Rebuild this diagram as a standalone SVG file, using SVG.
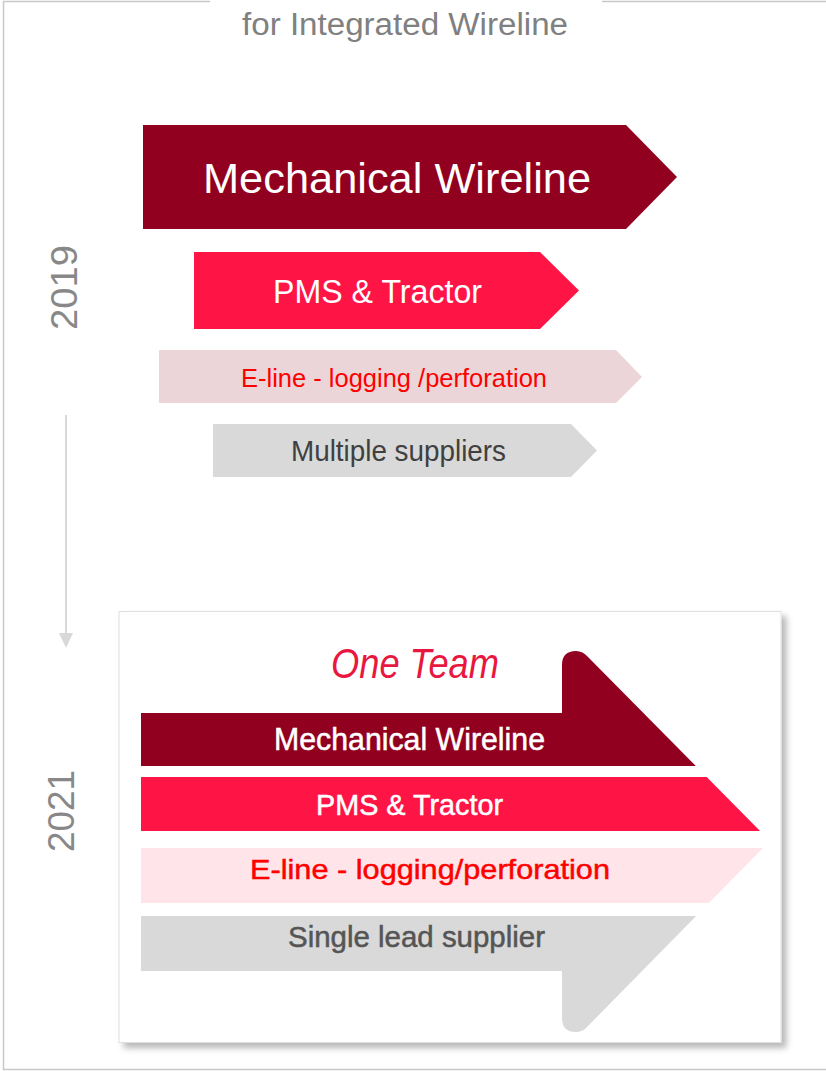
<svg xmlns="http://www.w3.org/2000/svg" width="826" height="1071" viewBox="0 0 826 1071">
  <style>
    text { font-family: "Liberation Sans", Arial, sans-serif; }
    .frame { fill: none; stroke: #c8c8c8; stroke-width: 1.5; }
    .w { fill: #ffffff; }
    .year { fill: #888888; font-size: 37px; }
    .conn { stroke: #d9d9d9; stroke-width: 2; fill: none; }
    .med { stroke-width: 0.5px; }
  </style>
  <defs>
    <filter id="shadow" x="-5%" y="-5%" width="115%" height="115%">
      <feDropShadow dx="5" dy="5" stdDeviation="3" flood-color="#000000" flood-opacity="0.28"/>
    </filter>
    <clipPath id="bigArrow">
      <path d="M141,713 L562,713 L562,665 Q562,651 576,651 Q583,651 588,657 L770,841 L588,1026 Q583,1032 576,1032 Q562,1032 562,1018 L562,971 L141,971 Z"/>
    </clipPath>
  </defs>

  <rect x="0" y="0" width="826" height="1071" fill="#ffffff"/>

  <!-- frame -->
  <g id="frame">
    <polyline class="frame" points="210,1.5 3.5,1.5 3.5,1069.5 826,1069.5"/>
    <line class="frame" x1="602" y1="1.5" x2="826" y2="1.5"/>
    <text x="242" y="35" font-size="31" fill="#808080" textLength="326" lengthAdjust="spacingAndGlyphs">for Integrated Wireline</text>
  </g>

  <!-- years -->
  <g id="year2019">
    <text class="year" transform="translate(77,287.5) rotate(-90)" text-anchor="middle" textLength="85" lengthAdjust="spacingAndGlyphs">2019</text>
  </g>
  <g id="year2021">
    <text class="year" transform="translate(74,811) rotate(-90)" text-anchor="middle" textLength="82" lengthAdjust="spacingAndGlyphs">2021</text>
  </g>

  <!-- connectors -->
  <g id="connectors">
    <line class="conn" x1="66" y1="415" x2="66" y2="634"/>
    <polygon points="59,633 73,633 66,648" fill="#d9d9d9"/>
  </g>

  <!-- 2019 arrows -->
  <g id="mech2019">
    <polygon points="143,125 626,125 677,177 626,229 143,229" fill="#920020"/>
    <text x="203" y="193" font-size="42" class="w" textLength="388" lengthAdjust="spacingAndGlyphs">Mechanical Wireline</text>
  </g>
  <g id="pms2019">
    <polygon points="194,252 540,252 579,290.5 540,329 194,329" fill="#ff1446"/>
    <text x="273" y="303" font-size="34" class="w" textLength="209" lengthAdjust="spacingAndGlyphs">PMS &amp; Tractor</text>
  </g>
  <g id="eline2019">
    <polygon points="159,350 616,350 642,377 616,403 159,403" fill="#ebd5d8"/>
    <text x="241" y="387" font-size="26" fill="#ff0000" textLength="306" lengthAdjust="spacingAndGlyphs">E-line - logging /perforation</text>
  </g>
  <g id="multi2019">
    <polygon points="213,424 571,424 597,450.5 571,477 213,477" fill="#d9d9d9"/>
    <text x="291" y="461" font-size="29" fill="#404040" textLength="215" lengthAdjust="spacingAndGlyphs">Multiple suppliers</text>
  </g>

  <!-- 2021 box -->
  <g id="box2021">
    <rect x="119" y="611.5" width="662" height="431" fill="#ffffff" stroke="#e0e0e0" stroke-width="1" filter="url(#shadow)"/>
    <text x="415" y="678" font-family="'Liberation Serif', serif" font-style="italic" font-size="42" fill="#e8173f" text-anchor="middle" textLength="168" lengthAdjust="spacingAndGlyphs">One Team</text>
  </g>

  <g id="mech2021">
    <rect x="130" y="640" width="660" height="126" fill="#920020" clip-path="url(#bigArrow)"/>
    <text x="274" y="750" font-size="31" class="w med" stroke="#ffffff" textLength="271" lengthAdjust="spacingAndGlyphs">Mechanical Wireline</text>
  </g>
  <g id="pms2021">
    <rect x="130" y="777" width="660" height="54" fill="#ff1446" clip-path="url(#bigArrow)"/>
    <text x="316" y="815" font-size="30" class="w med" stroke="#ffffff" textLength="187" lengthAdjust="spacingAndGlyphs">PMS &amp; Tractor</text>
  </g>
  <g id="eline2021">
    <rect x="130" y="848" width="660" height="55" fill="#ffe5e9" clip-path="url(#bigArrow)"/>
    <text x="250" y="879" font-size="28" fill="#ff0000" stroke="#ff0000" class="med" textLength="360" lengthAdjust="spacingAndGlyphs">E-line - logging/perforation</text>
  </g>
  <g id="single2021">
    <rect x="130" y="916" width="660" height="130" fill="#d9d9d9" clip-path="url(#bigArrow)"/>
    <text x="288" y="947" font-size="29" fill="#555555" stroke="#555555" class="med" textLength="257" lengthAdjust="spacingAndGlyphs">Single lead supplier</text>
  </g>
</svg>
